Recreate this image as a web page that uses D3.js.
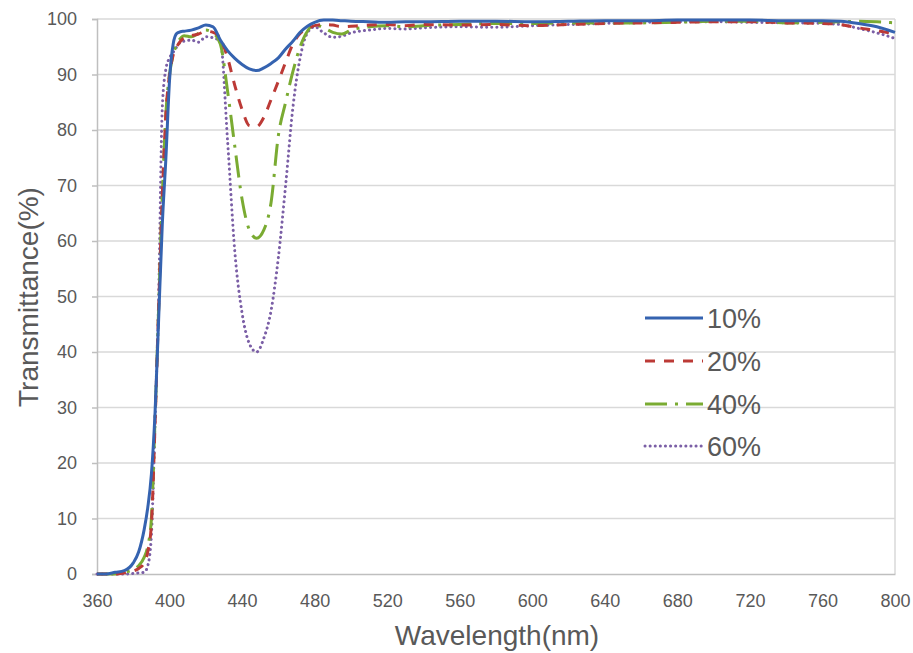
<!DOCTYPE html>
<html lang="en">
    <head>
        <meta charset="utf-8">
        <style>
            body { margin: 0; background: #fff; }
            text { font-family: "Liberation Sans", Arial, sans-serif; fill: #595959; }
        </style>
    </head>
    <body>

        <svg id="chart" width="913" height="653"></svg>

        <script src="https://cdn.jsdelivr.net/npm/d3@7"></script>

        <script>
            // wavelengths in nm, shared by all four series
            var wavelengths = [360, 365, 370, 375, 380, 383, 386, 388, 390, 392, 394, 396, 398, 400,
                402, 404, 406, 408, 412, 416, 420, 424, 428, 432, 436, 440, 444, 448, 452, 456,
                460, 464, 468, 472, 476, 480, 485, 490, 495, 500, 510, 520, 530, 540, 560, 580,
                600, 620, 640, 660, 680, 700, 720, 740, 760, 770, 780, 790, 800];

            var t10 = [0, 0, 0.3, 0.6, 2, 4, 8, 12, 18, 29, 46, 63, 75, 89,
                95.5, 97.4, 97.7, 97.8, 98, 98.4, 98.9, 98.6, 96.2, 94.3, 92.9, 91.8, 91, 90.7, 91.2, 92,
                93, 94.6, 96, 97.6, 98.7, 99.4, 99.8, 99.8, 99.7, 99.6, 99.5, 99.4, 99.5, 99.5, 99.6, 99.6,
                99.5, 99.6, 99.7, 99.7, 99.8, 99.8, 99.8, 99.7, 99.7, 99.6, 99.2, 98.6, 97.6];

            var t20 = [0, 0, 0, 0.2, 0.5, 1, 2, 4, 9, 27, 48, 68, 83, 90,
                93.5, 95, 96, 96.6, 97, 97.3, 97.8, 97.6, 96.5, 93, 88, 83.7, 80.8, 80.6, 82.3, 85.5,
                88.8, 92.2, 95.5, 97.4, 98.2, 98.8, 99, 98.9, 98.6, 98.7, 98.9, 99, 98.8, 99, 98.9, 99,
                98.8, 99, 99.2, 99.3, 99.4, 99.5, 99.5, 99.3, 99.2, 99, 98.4, 97.9, 97.3];

            var t40 = [0, 0, 0, 0.3, 0.8, 1.5, 3, 5, 10, 28, 48, 68, 83, 90,
                93.5, 95.5, 96.5, 97, 96.8, 97.4, 98, 97.5, 95.5, 87, 77, 67.5, 62, 60.5, 62, 67,
                79, 85, 90.5, 95, 97.8, 99, 98.4, 97.6, 97.3, 98, 98.6, 98.8, 98.6, 98.8, 99, 99.2,
                99.2, 99.3, 99.3, 99.3, 99.4, 99.6, 99.6, 99.3, 99.4, 99.5, 99.6, 99.5, 99.3];

            var t60 = [0, 0, 0, 0, 0.1, 0.2, 0.3, 1.5, 7, 27, 50, 84, 91, 93,
                94, 95, 95.8, 96, 96.2, 95.8, 96.8, 96.6, 96, 78, 58, 47, 41.5, 40, 42.5, 47.5,
                57, 70, 84, 93, 97.5, 98.6, 97.5, 96.7, 96.9, 97.5, 98, 98.3, 98.2, 98.4, 98.6, 98.5,
                98.8, 99, 99.2, 99.4, 99.5, 99.5, 99.4, 99.3, 99.2, 99, 98.3, 97.5, 96.5];

            var seriesNames = ["10%", "20%", "40%", "60%"];
            var seriesValues = [t10, t20, t40, t60];
            var seriesColors = ["#3563b0", "#bc3a36", "#7aab32", "#7b5fa6"];
            var seriesDash = ["", "10,9", "22,8,3,8", "0.1,5"];

            var xTicks = [360, 400, 440, 480, 520, 560, 600, 640, 680, 720, 760, 800];
            var yTicks = [0, 10, 20, 30, 40, 50, 60, 70, 80, 90, 100];

            (function(){
                var svg = d3.select("#chart");
                var pLeft = 97, pRight = 895, pTop = 19, pBottom = 574;

                var x = d3.scaleLinear().domain([360, 800]).range([pLeft, pRight]);
                var y = d3.scaleLinear().domain([0, 100]).range([pBottom, pTop]);

                // horizontal gridlines
                svg.append("g")
                    .selectAll("line")
                    .data(yTicks.slice(1))
                    .enter()
                    .append("line")
                    .attr("x1", pLeft).attr("x2", pRight)
                    .attr("y1", function(d){ return y(d); })
                    .attr("y2", function(d){ return y(d); })
                    .attr("stroke", "#d9d9d9")
                    .attr("stroke-width", 1.5);

                // right border of plot area
                svg.append("line")
                    .attr("x1", pRight).attr("x2", pRight)
                    .attr("y1", pTop).attr("y2", pBottom)
                    .attr("stroke", "#d9d9d9")
                    .attr("stroke-width", 1.5);

                var yAxis = svg.append("g")
                    .attr("transform", "translate(" + pLeft + ",0)")
                    .call(d3.axisLeft(y).tickValues(yTicks).tickSize(5).tickPadding(15));
                var xAxis = svg.append("g")
                    .attr("transform", "translate(0," + pBottom + ")")
                    .call(d3.axisBottom(x).tickValues(xTicks).tickSize(0).tickPadding(20));

                [yAxis, xAxis].forEach(function(g){
                    g.select(".domain").attr("stroke", "#bfbfbf").attr("stroke-width", 1.5);
                    g.selectAll(".tick line").attr("stroke", "#bfbfbf").attr("stroke-width", 1.5);
                    g.selectAll(".tick text")
                        .attr("fill", "#595959")
                        .style("font-family", "'Liberation Sans', Arial, sans-serif")
                        .style("font-size", "18px");
                });

                // axis titles
                svg.append("text")
                    .attr("x", 497).attr("y", 645)
                    .attr("text-anchor", "middle")
                    .style("font-size", "28px")
                    .text("Wavelength(nm)");
                svg.append("text")
                    .attr("transform", "translate(38,297) rotate(-90)")
                    .attr("text-anchor", "middle")
                    .style("font-size", "28px")
                    .text("Transmittance(%)");

                var lineFunction = d3.line()
                    .x(function(d){ return x(d[0]); })
                    .y(function(d){ return y(d[1]); })
                    .curve(d3.curveMonotoneX);

                var plot = svg.append("g");
                // draw in reverse so the blue curve sits on top
                for (var i = seriesValues.length - 1; i >= 0; i--) {
                    var pts = wavelengths.map(function(w, j){ return [w, seriesValues[i][j]]; });
                    plot.append("path")
                        .attr("d", lineFunction(pts))
                        .attr("fill", "none")
                        .attr("stroke", seriesColors[i])
                        .attr("stroke-width", 3)
                        .attr("stroke-dasharray", seriesDash[i] || null)
                        .attr("stroke-linecap", i == 3 ? "round" : "butt")
                        .attr("stroke-linejoin", "round");
                }

                // legend
                var legendY = [318, 361, 404, 446];
                var legend = svg.append("g");
                seriesNames.forEach(function(name, i){
                    legend.append("line")
                        .attr("x1", 645).attr("x2", 703)
                        .attr("y1", legendY[i]).attr("y2", legendY[i])
                        .attr("stroke", seriesColors[i])
                        .attr("stroke-width", 3)
                        .attr("stroke-dasharray", seriesDash[i] || null)
                        .attr("stroke-linecap", i == 3 ? "round" : "butt");
                    legend.append("text")
                        .attr("x", 707).attr("y", legendY[i] + 10)
                        .style("font-size", "27px")
                        .text(name);
                });
            })();
        </script>

    </body>
</html>
